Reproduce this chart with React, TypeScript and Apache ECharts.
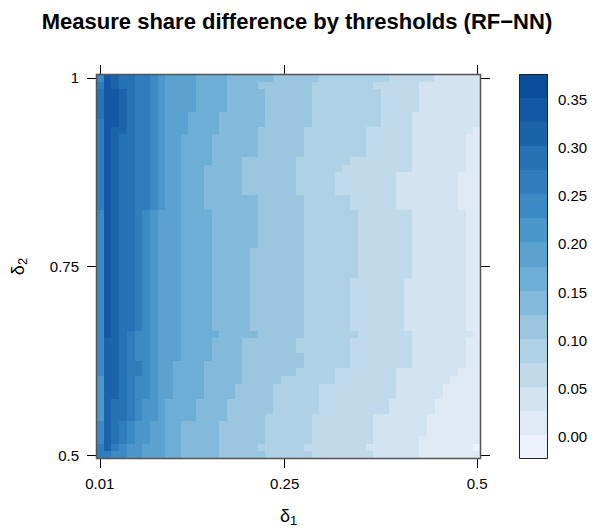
import React, { useEffect, useRef } from 'react';
import * as echarts from 'echarts';

// delta_1 thresholds (columns) and delta_2 thresholds (rows)
const xThresholds = [0.01,0.02,0.03,0.04,0.05,0.06,0.07,0.08,0.09,0.1,0.11,0.12,0.13,0.14,0.15,0.16,0.17,0.18,0.19,0.2,0.21,0.22,0.23,0.24,0.25,0.26,0.27,0.28,0.29,0.3,0.31,0.32,0.33,0.34,0.35,0.36,0.37,0.38,0.39,0.4,0.41,0.42,0.43,0.44,0.45,0.46,0.47,0.48,0.49,0.5];
const yThresholds = [0.5,0.51,0.52,0.53,0.54,0.55,0.56,0.57,0.58,0.59,0.6,0.61,0.62,0.63,0.64,0.65,0.66,0.67,0.68,0.69,0.7,0.71,0.72,0.73,0.74,0.75,0.76,0.77,0.78,0.79,0.8,0.81,0.82,0.83,0.84,0.85,0.86,0.87,0.88,0.89,0.9,0.91,0.92,0.93,0.94,0.95,0.96,0.97,0.98,0.99,1];
const xTickLabels = ['0.01', '0.25', '0.5'];
const yTickLabels = ['0.5', '0.75', '1'];
const colorbarTicks = [0, 0.05, 0.1, 0.15, 0.2, 0.25, 0.3, 0.35];

// colour key: 16 bands
const bandBreaks = [-0.0235,0.0015,0.0265,0.0515,0.0765,0.1015,0.1265,0.1515,0.1765,0.2015,0.2265,0.2515,0.2765,0.3015,0.3265,0.3515,0.3765];
const bandColors = ['#EEF2FD','#DFEAF6','#D2E3F2','#C0D9EB','#AFD1E6','#9AC6E0','#83BADB','#6DAED6','#5CA2D0','#4B96CA','#3B8AC4','#2F7DBC','#2572B4','#1B64AA','#1258A2','#0A4D9B'];

// Each row (top row delta_2 = 1 first, down to delta_2 = 0.5):
// [band of col 1, band of col 2, then first column index where band 13,12,...,1,0 begins]
const rowEdges = [
  [10,14, 2,3,5,7,8,9,13,17,23,29,38,44,50,50],
  [11,14, 2,3,5,7,8,9,13,17,21,28,36,42,50,50],
  [12,14, 3,4,5,7,8,9,13,17,22,28,37,42,50,50],
  [12,14, 3,4,5,7,8,9,13,17,22,28,37,42,50,50],
  [12,14, 3,4,5,7,8,9,13,17,22,28,37,42,50,50],
  [12,14, 3,4,5,7,8,9,12,16,22,28,37,41,50,50],
  [11,14, 3,4,5,7,8,9,12,16,22,28,37,41,50,50],
  [11,14, 2,4,5,7,8,9,12,16,21,27,35,41,49,50],
  [11,14, 2,3,5,7,8,9,11,15,21,27,35,41,48,50],
  [11,14, 2,3,5,7,8,9,11,15,21,27,35,41,48,50],
  [11,14, 2,3,5,7,8,9,11,15,21,27,35,41,48,50],
  [11,14, 2,3,5,7,8,9,11,15,19,26,33,41,48,50],
  [11,14, 2,3,5,7,8,9,11,14,19,26,32,41,48,50],
  [11,14, 2,3,5,7,8,9,11,14,19,26,31,39,47,50],
  [11,14, 2,3,5,7,8,9,11,14,19,26,31,39,47,50],
  [11,14, 2,3,5,7,8,9,11,14,19,26,31,39,47,50],
  [11,14, 2,3,5,7,8,9,11,14,21,27,33,39,47,50],
  [11,14, 2,3,5,7,8,9,11,14,21,27,33,39,47,50],
  [10,14, 2,3,5,6,7,8,11,15,21,27,34,41,48,50],
  [10,14, 2,3,5,6,7,8,11,15,21,27,34,41,48,50],
  [10,14, 2,3,5,6,7,8,11,15,21,27,34,41,48,50],
  [10,14, 2,3,5,6,7,8,11,15,21,27,34,41,48,50],
  [10,14, 2,3,5,6,7,8,11,15,21,27,34,41,48,50],
  [10,14, 2,3,5,6,7,8,11,15,20,27,34,41,48,50],
  [10,14, 2,3,5,6,7,8,11,15,20,27,34,41,48,50],
  [10,14, 2,3,5,6,7,8,11,15,20,27,34,41,48,50],
  [10,14, 2,3,5,6,7,8,11,15,20,27,34,41,48,50],
  [10,14, 2,3,5,6,7,8,11,15,20,27,33,40,48,50],
  [10,14, 2,3,5,6,7,8,11,15,20,27,33,40,48,50],
  [10,14, 2,3,5,6,7,8,11,15,20,27,33,40,48,50],
  [10,14, 2,3,5,6,7,8,11,15,20,27,33,40,48,50],
  [10,14, 2,3,5,6,7,8,11,15,20,27,33,40,48,50],
  [10,14, 2,3,5,6,7,8,11,15,20,27,33,40,48,50],
  [10,14, 2,3,5,6,7,8,11,15,20,27,33,40,48,50],
  [10,14, 2,3,4,5,7,8,11,16,21,27,34,41,49,50],
  [10,13, 2,3,4,5,7,8,11,15,19,26,33,41,48,50],
  [10,13, 2,3,4,5,7,8,11,15,19,26,33,41,48,50],
  [10,13, 2,3,4,5,7,8,11,15,19,27,33,41,48,50],
  [10,13, 2,3,4,6,7,8,10,14,19,27,33,41,48,50],
  [10,13, 2,3,4,6,7,8,10,14,19,26,31,39,47,50],
  [9,13, 2,3,4,5,7,8,10,14,19,24,31,39,46,50],
  [9,13, 2,3,4,5,7,8,10,14,18,23,29,39,45,50],
  [9,13, 2,3,4,5,7,8,10,14,18,23,29,39,45,50],
  [9,13, 2,2,4,5,6,8,9,13,17,23,29,38,44,50],
  [9,13, 2,2,4,5,6,8,9,13,17,23,29,38,44,50],
  [9,13, 2,2,4,5,6,8,9,13,17,22,28,36,43,50],
  [10,13, 2,2,3,4,5,7,9,11,16,22,28,36,43,50],
  [10,13, 2,2,3,4,5,7,9,11,16,22,28,36,43,50],
  [10,13, 2,2,3,4,5,7,9,11,16,22,28,36,42,50],
  [11,13, 2,2,2,3,4,6,9,11,16,21,27,35,42,49],
  [11,11, 2,2,2,2,4,6,9,11,16,22,28,36,42,50],
];

const FONT = '"Liberation Sans", Arial, Helvetica, sans-serif';
const P = { left: 96, top: 74, width: 385, height: 385 };
const CB = { left: 519, top: 74, width: 29, height: 385 };

function bandOf(row: number[], col: number): number {
  if (col === 0) return row[0];
  if (col === 1) return row[1];
  let n = 0;
  for (let i = 2; i < row.length; i++) if (row[i] <= col) n++;
  return 14 - n;
}

const snap = (v: number) => Math.round(+v.toFixed(3));

export default function App() {
  const ref = useRef<HTMLDivElement>(null);
  useEffect(() => {
    if (!ref.current) return;
    const chart = echarts.init(ref.current, null, { renderer: 'svg' });
    const xCats = xThresholds.map(String);
    const yCats = yThresholds.map(String);
    const data: number[][] = [];
    rowEdges.forEach((row, k) => {
      const yi = yCats.length - 1 - k;
      for (let j = 0; j < xCats.length; j++) {
        const b = bandOf(row, j);
        data.push([j, yi, (bandBreaks[b] + bandBreaks[b + 1]) / 2]);
      }
    });
    const keyData = bandColors.map((_, i) => [bandBreaks[i], bandBreaks[i + 1], i]);
    const xShow = (i: number, v: string) => xTickLabels.includes(v);
    const yShow = (i: number, v: string) => yTickLabels.includes(v);
    const tickStyle = { color: '#000', width: 1 };
    const labelStyle = { color: '#000', fontSize: 15, fontFamily: FONT };
    const nameStyle = (padTop: number) => ({
      color: '#000', fontFamily: FONT, fontSize: 18,
      rich: {
        d: { fontSize: 18, fontFamily: FONT, color: '#000' },
        s: { fontSize: 13, fontFamily: FONT, color: '#000', padding: [padTop, 0, 0, 0] },
      },
    });
    chart.setOption({
      animation: false,
      backgroundColor: '#fff',
      title: {
        text: 'Measure share difference by thresholds (RF\u2212NN)',
        left: 'center', top: 5,
        textStyle: { fontSize: 22, fontWeight: 'bold', color: '#000', fontFamily: FONT },
      },
      grid: [
        { left: P.left, top: P.top, width: P.width, height: P.height, containLabel: false, outerBoundsMode: 'none' },
        { left: CB.left, top: CB.top, width: CB.width, height: CB.height, containLabel: false, outerBoundsMode: 'none' },
      ],
      xAxis: [
        {
          type: 'category', data: xCats, gridIndex: 0, position: 'bottom',
          axisLine: { show: false },
          axisTick: { show: true, alignWithLabel: true, interval: xShow, length: 9, lineStyle: tickStyle },
          axisLabel: { interval: xShow, margin: 17, ...labelStyle },
          name: '{d|\u03b4}{s|1}', nameLocation: 'middle', nameGap: 45,
          nameTextStyle: nameStyle(10),
          splitLine: { show: false },
        },
        {
          type: 'category', data: xCats, gridIndex: 0, position: 'top',
          axisLine: { show: false },
          axisTick: { show: true, alignWithLabel: true, interval: xShow, length: 9, lineStyle: tickStyle },
          axisLabel: { show: false },
        },
        { type: 'value', gridIndex: 1, min: 0, max: 1, show: false },
      ],
      yAxis: [
        {
          type: 'category', data: yCats, gridIndex: 0, position: 'left',
          axisLine: { show: false },
          axisTick: { show: true, alignWithLabel: true, interval: yShow, length: 9, lineStyle: tickStyle },
          axisLabel: { interval: yShow, margin: 17, ...labelStyle },
          name: '{d|\u03b4}{s|2}', nameLocation: 'middle', nameGap: 67,
          nameTextStyle: nameStyle(10),
        },
        {
          type: 'category', data: yCats, gridIndex: 0, position: 'right',
          axisLine: { show: false },
          axisTick: { show: true, alignWithLabel: true, interval: yShow, length: 9, lineStyle: tickStyle },
          axisLabel: { show: false },
        },
        {
          type: 'value', gridIndex: 1, position: 'right',
          min: bandBreaks[0], max: bandBreaks[bandBreaks.length - 1],
          axisLine: { show: false },
          splitLine: { show: false },
          axisTick: { show: true, length: 6, customValues: colorbarTicks, lineStyle: tickStyle },
          axisLabel: { customValues: colorbarTicks, margin: 10, formatter: (v: number) => v.toFixed(2), ...labelStyle },
        },
      ],
      visualMap: {
        type: 'piecewise', show: false, seriesIndex: 0, dimension: 2,
        pieces: bandColors.map((c, i) => ({ gte: bandBreaks[i], lt: bandBreaks[i + 1], color: c })),
      },
      series: [
        {
          type: 'custom', xAxisIndex: 0, yAxisIndex: 0, data,
          encode: { x: 0, y: 1 },
          renderItem: (params: any, api: any) => {
            const c = api.coord([api.value(0), api.value(1)]);
            const s = api.size([1, 1]);
            const x0 = snap(c[0] - s[0] / 2);
            const x1 = snap(c[0] + s[0] / 2);
            const y0 = snap(c[1] - s[1] / 2);
            const y1 = snap(c[1] + s[1] / 2);
            return {
              type: 'rect',
              shape: { x: x0, y: y0, width: x1 - x0, height: y1 - y0 },
              style: { fill: api.visual('color') },
            };
          },
        },
        {
          type: 'custom', xAxisIndex: 2, yAxisIndex: 2, data: keyData,
          renderItem: (params: any, api: any) => {
            const p0 = api.coord([0, api.value(0)]);
            const p1 = api.coord([1, api.value(1)]);
            const y0 = snap(p1[1]);
            const y1 = snap(p0[1]);
            return {
              type: 'rect',
              shape: { x: snap(p0[0]), y: y0, width: snap(p1[0]) - snap(p0[0]), height: y1 - y0 },
              style: { fill: bandColors[api.value(2)] },
            };
          },
        },
      ],
      graphic: [
        { type: 'rect', z: 100, shape: { x: P.left + 0.5, y: P.top + 0.5, width: P.width - 1, height: P.height - 1 }, style: { fill: 'none', stroke: '#555', lineWidth: 1.5 } },
        { type: 'rect', z: 100, shape: { x: CB.left + 0.5, y: CB.top + 0.5, width: CB.width - 1, height: CB.height - 1 }, style: { fill: 'none', stroke: '#222', lineWidth: 1 } },
      ],
    });
    return () => chart.dispose();
  }, []);
  return <div ref={ref} style={{ position: 'absolute', left: 0, top: 0, width: 594, height: 529 }} />;
}
